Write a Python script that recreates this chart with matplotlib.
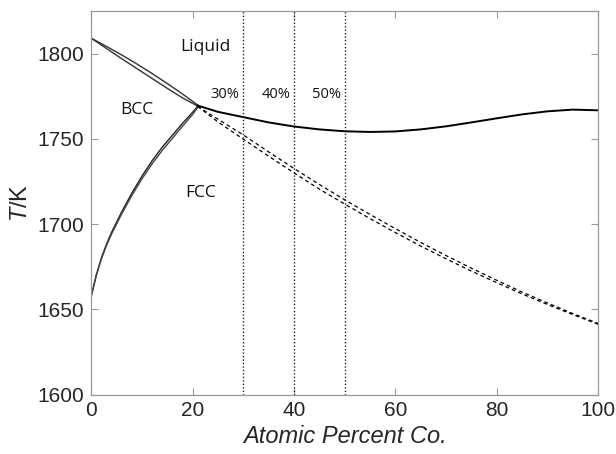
import matplotlib
matplotlib.use("Agg")
import matplotlib.pyplot as plt

plt.rcParams['mathtext.fontset'] = 'custom'
plt.rcParams['mathtext.rm'] = 'Liberation Sans'
plt.rcParams['mathtext.it'] = 'Liberation Sans:italic'

# BCC (delta) liquidus / solidus, Fe side
bcc_x = [0, 3, 6, 9, 12, 15, 18, 21]
bcc_liq = [1809, 1804.2, 1799.2, 1793.9, 1788.3, 1782.4, 1776.3, 1769.8]
bcc_sol = [1809, 1803.0, 1797.0, 1791.2, 1785.4, 1779.6, 1774.0, 1769.2]

# BCC / FCC boundary
bf_x = [0, 1, 2, 3, 4, 6, 8, 10, 12, 14, 16, 18, 20, 21]
bf_a = [1657.5, 1670, 1680, 1688, 1695, 1707, 1718, 1728, 1737, 1745, 1752, 1759, 1765.5, 1769]
bf_b = [1657.5, 1669.6, 1679.4, 1687.2, 1694.0, 1705.8, 1716.6, 1726.4, 1735.2, 1743.1, 1750.2, 1757.3, 1764.2, 1768.4]

# FCC liquidus
liq_x = [21, 25, 30, 35, 40, 45, 50, 55, 60, 65, 70, 75, 80, 85, 90, 95, 100]
liq_t = [1769.5, 1765.8, 1762.7, 1759.6, 1757.2, 1755.5, 1754.4, 1754.0, 1754.3,
         1755.5, 1757.3, 1759.6, 1762.0, 1764.3, 1766.1, 1767.1, 1766.7]

# dashed (metastable) pair
dash_x = [21, 25, 30, 35, 40, 45, 50, 55, 60, 65, 70, 75, 80, 85, 90, 95, 100]
dash_up = [1769.0, 1761.5, 1752.3, 1742.3, 1732.6, 1723.2, 1714.2, 1705.6, 1697.3,
           1689.2, 1681.5, 1674.1, 1667.0, 1660.1, 1653.7, 1647.5, 1641.7]
dash_lo = [1769.0, 1759.9, 1749.8, 1739.8, 1730.0, 1720.5, 1711.7, 1703.2, 1695.0,
           1687.1, 1679.6, 1672.4, 1665.6, 1659.0, 1652.8, 1646.9, 1641.2]

comp_lines = [30, 40, 50]
comp_labels = ['30%', '40%', '50%']

fig = plt.figure(figsize=(6.16, 4.54), dpi=100)
ax = fig.add_axes([0.148, 0.131, 0.823, 0.845])

ax.plot(bcc_x, bcc_liq, color='#333333', lw=1.0)
ax.plot(bcc_x, bcc_sol, color='#333333', lw=1.0)
ax.plot(bf_x, bf_a, color='#222222', lw=1.0)
ax.plot(bf_x, bf_b, color='#444444', lw=1.0)
ax.plot(liq_x, liq_t, color='black', lw=1.4)
ax.plot(dash_x, dash_up, color='black', lw=0.9, ls=(0, (3, 2.5)))
ax.plot(dash_x, dash_lo, color='black', lw=0.9, ls=(0, (3, 2.5)))

for c in comp_lines:
    ax.axvline(c, color='#222222', lw=1.0, ls=(0, (1, 1.5)))

tfont = dict(family='Open Sans', color='#111111')
ax.text(22.5, 1804, 'Liquid', fontsize=12.5, ha='center', va='center', **tfont)
ax.text(9.0, 1767, 'BCC', fontsize=12.5, ha='center', va='center', **tfont)
ax.text(21.5, 1718, 'FCC', fontsize=12.5, ha='center', va='center', **tfont)
for c, lab in zip(comp_lines, comp_labels):
    ax.text(c - 3.6, 1776.2, lab, fontsize=10.5, ha='center', va='center', **tfont)

ax.set_xlim(0, 100)
ax.set_ylim(1600, 1825)
ax.set_xticks([0, 20, 40, 60, 80, 100])
ax.set_yticks([1600, 1650, 1700, 1750, 1800])
ax.tick_params(direction='in', top=True, right=True, length=5, width=0.8,
               color='#999999', labelsize=15, labelcolor='#262626', pad=5)
for lab in ax.get_xticklabels() + ax.get_yticklabels():
    lab.set_family('Liberation Sans')
for s in ax.spines.values():
    s.set_color('#999999')
    s.set_linewidth(0.9)

ax.set_xlabel('Atomic Percent Co.', fontsize=17, family='Liberation Sans',
              style='italic', color='#262626', labelpad=3)
ax.set_ylabel(r'$\mathit{T}$/K', fontsize=17, family='Liberation Sans',
              color='#262626', labelpad=4)

fig.savefig('out.png', dpi=100)
